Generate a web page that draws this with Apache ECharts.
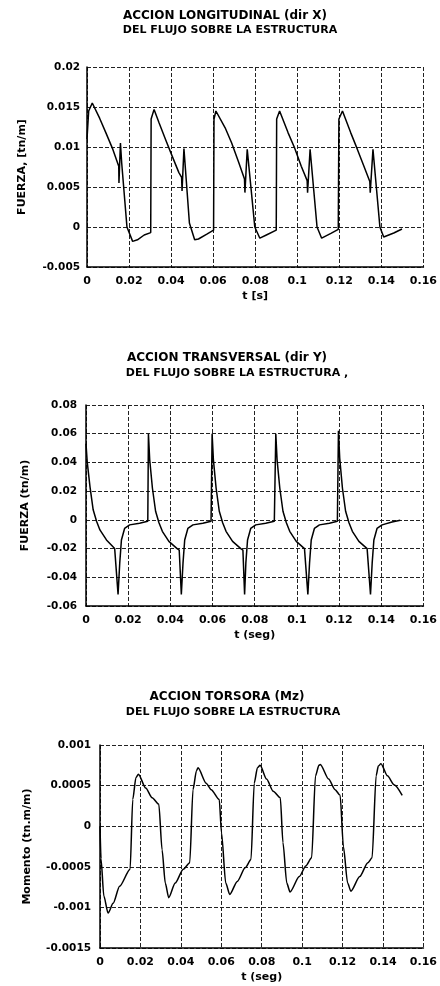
<!DOCTYPE html>
<html>
<head>
<meta charset="utf-8">
<script src="https://cdn.jsdelivr.net/npm/echarts@6/dist/echarts.min.js"></script>
<style>
  html, body { margin: 0; padding: 0; background: #fff; }
  #chart { width: 440px; height: 986px; }
</style>
</head>
<body>
<div id="chart"></div>
<script>
// t (s) vs value
var fxData = [
  [0, 0.011], [0.0008, 0.0145], [0.0025, 0.0155], [0.006, 0.0136], [0.0091, 0.0117],
  [0.0123, 0.0097], [0.0151, 0.0076], [0.0152, 0.0055], [0.0159, 0.0105], [0.0165, 0.008],
  [0.019, 0], [0.0217, -0.0018], [0.024, -0.0016], [0.0272, -0.001], [0.0303, -0.0007],
  [0.0305, 0.0135], [0.0319, 0.0147],
  [0.0343, 0.013], [0.0374, 0.0109], [0.0406, 0.0088], [0.0437, 0.0068], [0.045, 0.0062],
  [0.0452, 0.0045], [0.0461, 0.0098], [0.0487, 0.0005], [0.0512, -0.0016], [0.053, -0.0015],
  [0.057, -0.0009], [0.0602, -0.0004], [0.0604, 0.0135], [0.0613, 0.0145],
  [0.0657, 0.0124], [0.0688, 0.0105], [0.072, 0.0082], [0.0749, 0.006], [0.0751, 0.0043],
  [0.0762, 0.0097], [0.0798, 0], [0.0822, -0.0014], [0.0853, -0.001], [0.09, -0.0004],
  [0.0902, 0.0135], [0.0916, 0.0145],
  [0.0956, 0.0118], [0.0987, 0.0099], [0.1019, 0.0076], [0.1047, 0.0058], [0.1049, 0.0043],
  [0.1061, 0.0097], [0.1094, 0], [0.1116, -0.0014], [0.116, -0.0008], [0.1195, -0.0003],
  [0.1198, 0.0135], [0.1215, 0.0145],
  [0.1254, 0.0118], [0.1286, 0.0097], [0.1317, 0.0076], [0.1345, 0.0057], [0.1347, 0.0043],
  [0.136, 0.0097], [0.1393, 0], [0.1411, -0.00125], [0.1459, -0.00075], [0.1498, -0.00025]
];

var fyData = [
  [0, 0.053], [0.0006, 0.04], [0.0019, 0.023], [0.0034, 0.007], [0.005, -0.001],
  [0.0066, -0.007], [0.0097, -0.014], [0.0136, -0.02], [0.0144, -0.021], [0.0152, -0.052],
  [0.016, -0.03], [0.0168, -0.014], [0.0183, -0.006], [0.0207, -0.0035], [0.0254, -0.0023],
  [0.0293, -0.001], [0.0296, 0.06],
  [0.0302, 0.042], [0.0315, 0.022], [0.033, 0.006], [0.0346, -0.002], [0.0362, -0.008],
  [0.0393, -0.015], [0.0432, -0.02], [0.0442, -0.021], [0.0452, -0.052],
  [0.046, -0.03], [0.0468, -0.014], [0.0483, -0.006], [0.0507, -0.0035], [0.0554, -0.0023],
  [0.0593, -0.001], [0.0598, 0.06],
  [0.0604, 0.042], [0.0617, 0.022], [0.0632, 0.006], [0.0648, -0.002], [0.0664, -0.008],
  [0.0695, -0.015], [0.0734, -0.02], [0.0744, -0.021], [0.0752, -0.052],
  [0.0758, -0.03], [0.0766, -0.014], [0.0781, -0.006], [0.0805, -0.0035], [0.0852, -0.0023],
  [0.0893, -0.001], [0.09, 0.06],
  [0.0906, 0.042], [0.0919, 0.022], [0.0934, 0.006], [0.095, -0.002], [0.0966, -0.008],
  [0.0997, -0.015], [0.1036, -0.02], [0.1044, -0.021], [0.1052, -0.052],
  [0.106, -0.03], [0.1068, -0.014], [0.1083, -0.006], [0.1107, -0.0035], [0.1154, -0.0023],
  [0.1192, -0.001], [0.1197, 0.062],
  [0.1203, 0.043], [0.1216, 0.022], [0.1231, 0.006], [0.1247, -0.002], [0.1263, -0.008],
  [0.1294, -0.015], [0.1333, -0.02], [0.1341, -0.021], [0.1349, -0.052],
  [0.1357, -0.03], [0.1365, -0.014], [0.138, -0.006], [0.1404, -0.0035], [0.1451, -0.0015],
  [0.149, -0.0003]
];

var mzData = [
  [0, 0], [0.0005, -0.0004], [0.0019, -0.00086], [0.004, -0.00107], [0.0065, -0.00095],
  [0.0097, -0.00074], [0.0149, -0.00053], [0.0162, 0.00033], [0.0178, 0.0006], [0.019, 0.00064],
  [0.0226, 0.00047], [0.0258, 0.00035], [0.0291, 0.00027], [0.0307, -0.00029], [0.0323, -0.0007],
  [0.034, -0.00088], [0.0372, -0.0007], [0.0412, -0.00053], [0.0444, -0.00045], [0.046, 0.00045],
  [0.0477, 0.00068], [0.0485, 0.00072], [0.0525, 0.00053], [0.055, 0.00045], [0.059, 0.00033],
  [0.0601, -0.00008], [0.0622, -0.0007], [0.0642, -0.00084], [0.0679, -0.00068], [0.0719, -0.00051],
  [0.0747, -0.00041], [0.0763, 0.00053], [0.0779, 0.00072], [0.0792, 0.00075], [0.0824, 0.00058],
  [0.0857, 0.00043], [0.0892, 0.00035], [0.0905, -0.0002], [0.0924, -0.0007], [0.094, -0.00081],
  [0.0986, -0.00062], [0.1018, -0.00049], [0.1047, -0.00039], [0.1066, 0.00062], [0.1083, 0.00075],
  [0.109, 0.00076], [0.1131, 0.00058], [0.1163, 0.00045], [0.1188, 0.00038], [0.1204, -0.00025],
  [0.1225, -0.0007], [0.1241, -0.0008], [0.1285, -0.00062], [0.1325, -0.00045], [0.1346, -0.00039],
  [0.1366, 0.00062], [0.1377, 0.00074], [0.139, 0.00077], [0.1422, 0.00062], [0.1455, 0.00051],
  [0.1495, 0.00038]
];

var titles = [
  ['ACCION LONGITUDINAL (dir X)', 'DEL FLUJO SOBRE LA ESTRUCTURA'],
  ['ACCION TRANSVERSAL (dir Y)', 'DEL FLUJO SOBRE LA ESTRUCTURA ,'],
  ['ACCION TORSORA (Mz)', 'DEL FLUJO SOBRE LA ESTRUCTURA']
];
var xNames = ['t [s]', 't (seg)', 't (seg)'];
var yNames = ['FUERZA, [tn/m]', 'FUERZA (tn/m)', 'Momento (tn.m/m)'];
var yMin = [-0.005, -0.06, -0.0015];
var yMax = [0.02, 0.08, 0.001];
var yStep = [0.005, 0.02, 0.0005];

var FONT = 'DejaVu Sans';
var chart = echarts.init(document.getElementById('chart'));

var grids = [
  {left: 87, width: 340, top: 67, height: 200},
  {left: 86, width: 341, top: 405, height: 201},
  {left: 100, width: 330, top: 745, height: 203}
];
var titlePos = [
  [[225, 16], [230, 30]],
  [[227, 358], [237, 373]],
  [[227, 697], [233, 712]]
];
var yGap = [59, 55, 67];

var graphics = [];
titles.forEach(function (pair, i) {
  graphics.push({
    type: 'text', x: titlePos[i][0][0], y: titlePos[i][0][1],
    style: {text: pair[0], fill: '#000', font: 'bold 12px "DejaVu Sans"', align: 'center', verticalAlign: 'middle'}
  });
  graphics.push({
    type: 'text', x: titlePos[i][1][0], y: titlePos[i][1][1],
    style: {text: pair[1], fill: '#000', font: 'bold 11px "DejaVu Sans"', align: 'center', verticalAlign: 'middle'}
  });
});

var gridLine = {show: true, lineStyle: {color: '#222', type: [4, 2], width: 1}};

var xAxes = [], yAxes = [], series = [];
[fxData, fyData, mzData].forEach(function (data, i) {
  xAxes.push({
    type: 'value', gridIndex: i, min: 0, max: 0.16, interval: 0.02,
    name: xNames[i], nameLocation: 'middle', nameGap: 24,
    nameTextStyle: {color: '#000', fontFamily: FONT, fontWeight: 'bold', fontSize: 11},
    axisLine: {onZero: false, lineStyle: {color: '#000', width: 1.5}},
    axisTick: {show: false},
    axisLabel: {color: '#000', fontFamily: FONT, fontWeight: 'bold', fontSize: 11, margin: 9},
    splitLine: gridLine
  });
  yAxes.push({
    type: 'value', gridIndex: i, min: yMin[i], max: yMax[i], interval: yStep[i],
    name: yNames[i], nameLocation: 'middle', nameGap: yGap[i],
    nameTextStyle: {color: '#000', fontFamily: FONT, fontWeight: 'bold', fontSize: 11},
    axisLine: {show: true, onZero: false, lineStyle: {color: '#000', width: 1.5}},
    axisTick: {show: false},
    axisLabel: {color: '#000', fontFamily: FONT, fontWeight: 'bold', fontSize: 10.5, margin: i === 0 ? 7 : 9},
    splitLine: gridLine
  });
  series.push({
    type: 'line', xAxisIndex: i, yAxisIndex: i, data: data,
    showSymbol: false, symbol: 'none',
    smooth: i === 2 ? 0.25 : false, smoothMonotone: 'x',
    lineStyle: {color: '#000', width: 1.5}
  });
});

chart.setOption({
  animation: false,
  backgroundColor: '#fff',
  grid: grids,
  xAxis: xAxes,
  yAxis: yAxes,
  series: series,
  graphic: graphics
});
</script>
</body>
</html>
